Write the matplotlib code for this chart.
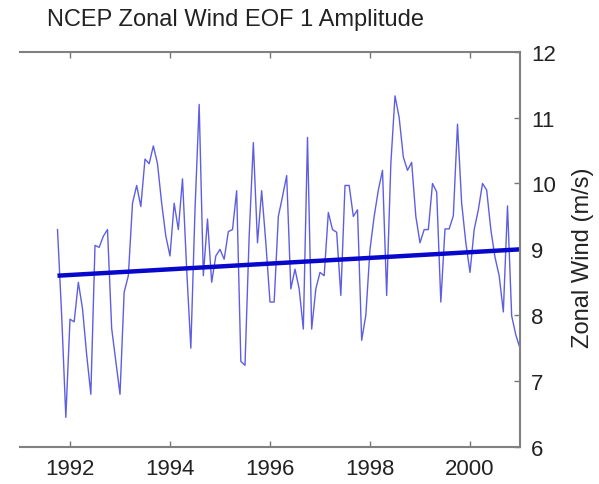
import numpy as np
import matplotlib
matplotlib.use("Agg")
import matplotlib.pyplot as plt

# Monthly EOF-1 amplitude, Oct 1991 .. Jan 2001 (m/s)
start_year = 1991.75
amplitude = [
    9.3, 8.0, 6.45, 7.94, 7.9, 8.5, 8.1, 7.4, 6.8, 9.06,
    9.03, 9.2, 9.3, 7.8, 7.3, 6.8, 8.35, 8.6, 9.7, 9.97,
    9.65, 10.37, 10.3, 10.57, 10.3, 9.7, 9.2, 8.9, 9.7, 9.3,
    10.07, 8.7, 7.5, 9.6, 11.2, 8.6, 9.46, 8.5, 8.9, 9.0,
    8.85, 9.27, 9.3, 9.89, 7.3, 7.24, 9.2, 10.62, 9.1, 9.89,
    9.1, 8.2, 8.2, 9.5, 9.8, 10.12, 8.4, 8.7, 8.4, 7.79,
    10.7, 7.79, 8.4, 8.65, 8.6, 9.56, 9.3, 9.26, 8.3, 9.97,
    9.97, 9.5, 9.6, 7.62, 8.0, 9.0, 9.5, 9.9, 10.2, 8.3,
    10.3, 11.33, 11.0, 10.4, 10.2, 10.32, 9.5, 9.1, 9.3, 9.3,
    10.0, 9.87, 8.2, 9.31, 9.31, 9.51, 10.9, 9.7, 9.1, 8.65,
    9.3, 9.6, 10.0, 9.9, 9.3, 8.88, 8.6, 8.05, 9.66, 7.99,
    7.7, 7.5,
]
trend_years = [1991.75, 2001.0]
trend_values = [8.6, 9.0]

x_ticks = [1992, 1994, 1996, 1998, 2000]
y_ticks = [6, 7, 8, 9, 10, 11, 12]

years = start_year + np.arange(len(amplitude)) / 12.0

W, H = 599, 485
fig = plt.figure(figsize=(W / 100, H / 100), dpi=100)
ax = fig.add_axes([20 / W, 1 - 448 / H, 500 / W, (448 - 52.7) / H])

font = "Liberation Sans"
ax.plot(years, amplitude, color="#5e5ee4", lw=1.0)
ax.plot(trend_years, trend_values, color="#0808cc", lw=3.2, solid_capstyle="butt")

ax.set_xlim(1991, 2001)
ax.set_ylim(6, 12)
ax.set_xticks(x_ticks)
ax.set_yticks(y_ticks)
ax.yaxis.tick_right()
ax.yaxis.set_label_position("right")
ax.tick_params(direction="in", length=4, width=1, color="#777777",
               labelsize=16, labelcolor="#222222", top=True, bottom=True,
               right=True, left=False, pad=8)
for lab in ax.get_xticklabels() + ax.get_yticklabels():
    lab.set_fontfamily(font)
for s in ax.spines.values():
    s.set_color("#808080")
    s.set_linewidth(1.5)
ax.spines["left"].set_visible(False)

ax.set_ylabel("Zonal Wind (m/s)", fontsize=17, family=font, color="#222222",
              va="center")
ax.yaxis.set_label_coords((583 - 20) / 500, (448 - 258) / 395.3)
fig.text(235.5 / W, 1 - 20 / H, "NCEP Zonal Wind EOF 1 Amplitude", ha="center",
         va="center", fontsize=17, family=font, color="#222222")

fig.savefig("out.png", dpi=100)
